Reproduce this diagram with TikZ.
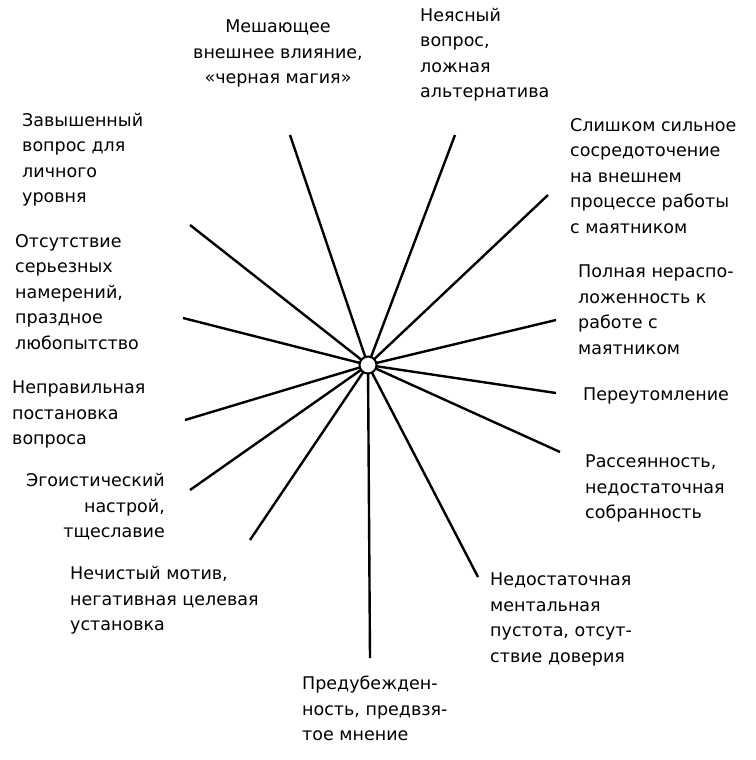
\documentclass[tikz,border=0pt]{standalone}
\usepackage{fontspec}
\setmainfont{DejaVu Sans}
\begin{document}
\begin{tikzpicture}[x=1pt,y=-1pt,
  lbl/.style={anchor=north west,inner sep=0pt,align=left,font=\fontsize{17.5}{25.5}\selectfont},
  ray/.style={line width=2.4pt}]
\useasboundingbox (0,0) rectangle (755,760);
\coordinate (c) at (368,365);
\foreach \px/\py [count=\i] in {290/135,455/135,548/195,556/320,556/393,560/452,478/577,370/658,250/540,190/490,185/420,183/318,190/225}
  \coordinate (e\i) at (\px,\py);
\foreach \i in {1,...,13}
  \draw[ray] (c) -- (e\i);
\node[draw,circle,line width=2pt,minimum size=17pt,inner sep=0pt,fill=white] (hub) at (c) {};
\node[lbl,anchor=north,align=center] (l1) at (278,20) {Мешающее\\внешнее влияние,\\«черная магия»};
\node[lbl] (l2) at (420,8) {Неясный\\вопрос,\\ложная\\альтернатива};
\node[lbl] (l3) at (570,118) {Слишком сильное\\сосредоточение\\на внешнем\\процессе работы\\с маятником};
\node[lbl] (l4) at (578,265) {Полная нераспо-\\ложенность к\\работе с\\маятником};
\node[lbl] (l5) at (583,388) {Переутомление};
\node[lbl] (l6) at (585,455) {Рассеянность,\\недостаточная\\собранность};
\node[lbl] (l7) at (490,573) {Недостаточная\\ментальная\\пустота, отсут-\\ствие доверия};
\node[lbl] (l8) at (302,676) {Предубежден-\\ность, предвзя-\\тое мнение};
\node[lbl] (l9) at (70,566) {Нечистый мотив,\\негативная целевая\\установка};
\node[lbl,anchor=north east,align=right] (l10) at (165,473) {Эгоистический\\настрой,\\тщеславие};
\node[lbl] (l11) at (12,381) {Неправильная\\постановка\\вопроса};
\node[lbl] (l12) at (15,234) {Отсутствие\\серьезных\\намерений,\\праздное\\любопытство};
\node[lbl] (l13) at (22,113) {Завышенный\\вопрос для\\личного\\уровня};
\end{tikzpicture}
\end{document}
